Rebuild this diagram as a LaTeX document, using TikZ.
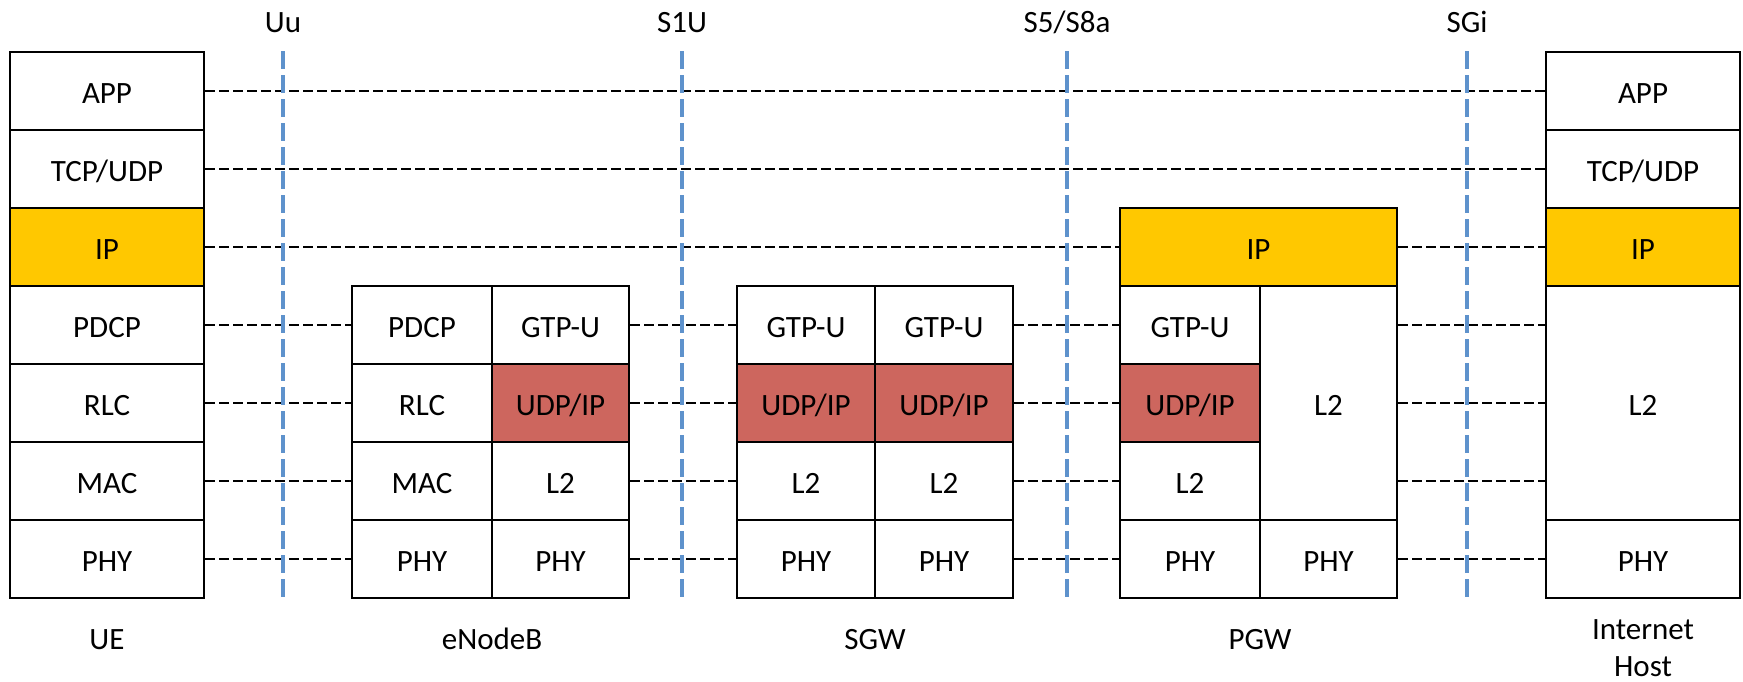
\documentclass[tikz,border=0pt]{standalone}
\usepackage{fontspec}
\setmainfont{Carlito}
\definecolor{ipgold}{RGB}{255,200,0}
\definecolor{udpred}{RGB}{205,102,94}
\definecolor{ifblue}{RGB}{94,146,204}

\tikzset{
  layer/.style={draw=black, line width=2pt, fill=white, inner sep=0pt,
    minimum height=78pt, text height=24pt, text depth=0pt},
  caption/.style={inner sep=0pt, text height=20pt, text depth=0pt},
  peer/.style={line width=1.5pt, dash pattern=on 9.5pt off 4.5pt},
  iface/.style={ifblue, line width=4.6pt, dash pattern=on 18pt off 6pt}
}

\begin{document}
\begin{tikzpicture}[x=1pt, y=-1pt, font=\fontsize{31}{37}\selectfont]
    \useasboundingbox (0,0) rectangle (1743,681);

    % UE stack
    \foreach \r/\t/\c in {1/APP/white, 2/{TCP/UDP}/white, 3/IP/ipgold, 4/PDCP/white,
                          5/RLC/white, 6/MAC/white, 7/PHY/white} {
        \node[layer, fill=\c, minimum width=194pt] (ue\r) at (107, 13+78*\r) {\t};
    }
    \node[caption] (ue) at (107,639) {UE};

    % eNodeB with radio side and S1 side
    \foreach \r/\t in {4/PDCP, 5/RLC, 6/MAC, 7/PHY} {
        \node[layer, minimum width=140pt] (enbA\r) at (422, 13+78*\r) {\t};
    }
    \foreach \r/\t/\c in {4/GTP-U/white, 5/{UDP/IP}/udpred, 6/L2/white, 7/PHY/white} {
        \node[layer, fill=\c, minimum width=137pt] (enbB\r) at (560.5, 13+78*\r) {\t};
    }
    \node[caption] (enb) at (492,639) {eNodeB};

    % SGW, two identical halves
    \foreach \r/\t/\c in {4/GTP-U/white, 5/{UDP/IP}/udpred, 6/L2/white, 7/PHY/white} {
        \node[layer, fill=\c, minimum width=138pt] (sgwA\r) at (806, 13+78*\r) {\t};
        \node[layer, fill=\c, minimum width=138pt] (sgwB\r) at (944, 13+78*\r) {\t};
    }
    \node[caption] (sgw) at (875,639) {SGW};

    % PGW, IP on top of both sides
    \node[layer, fill=ipgold, minimum width=277pt] (pgwip) at (1258.5,247) {IP};
    \foreach \r/\t/\c in {4/GTP-U/white, 5/{UDP/IP}/udpred, 6/L2/white, 7/PHY/white} {
        \node[layer, fill=\c, minimum width=140pt] (pgwA\r) at (1190, 13+78*\r) {\t};
    }
    \node[layer, minimum width=137pt, minimum height=234pt] (pgwl2) at (1328.5,403) {L2};
    \node[layer, minimum width=137pt] (pgwB7) at (1328.5,559) {PHY};
    \node[caption] (pgw) at (1260,639) {PGW};

    % Internet host stack
    \foreach \r/\t/\c in {1/APP/white, 2/{TCP/UDP}/white, 3/IP/ipgold} {
        \node[layer, fill=\c, minimum width=194pt] (host\r) at (1643, 13+78*\r) {\t};
    }
    \node[layer, minimum width=194pt, minimum height=234pt] (hostl2) at (1643,403) {L2};
    \node[layer, minimum width=194pt] (host7) at (1643,559) {PHY};
    \node[inner sep=0pt, align=center, anchor=north] (host) at (1643,619) {Internet\\Host};

    % peer layers
    \draw[peer] (ue1.east) -- (host1.west);
    \draw[peer] (ue2.east) -- (host2.west);
    \draw[peer] (ue3.east) -- (pgwip.west);
    \draw[peer] (pgwip.east) -- (host3.west);
    \foreach \r in {4,...,7} {
        \draw[peer] (ue\r.east) -- (enbA\r.west);
        \draw[peer] (enbB\r.east) -- (sgwA\r.west);
        \draw[peer] (sgwB\r.east) -- (pgwA\r.west);
    }
    \foreach \r in {4,5,6} {
        \draw[peer] (pgwl2.east |- ue\r.east) -- (hostl2.west |- ue\r.east);
    }
    \draw[peer] (pgwB7.east) -- (host7.west);

    % interfaces
    \node[caption] (uu) at (283,22) {Uu};
    \node[caption] (s1u) at (682,22) {S1U};
    \node[caption] (s5) at (1067,22) {S5/S8a};
    \node[caption] (sgi) at (1467,22) {SGi};
    \foreach \i in {uu,s1u,s5,sgi} {
        \draw[iface] (\i |- ue1.north) -- (\i |- ue7.south);
    }

\end{tikzpicture}
\end{document}
